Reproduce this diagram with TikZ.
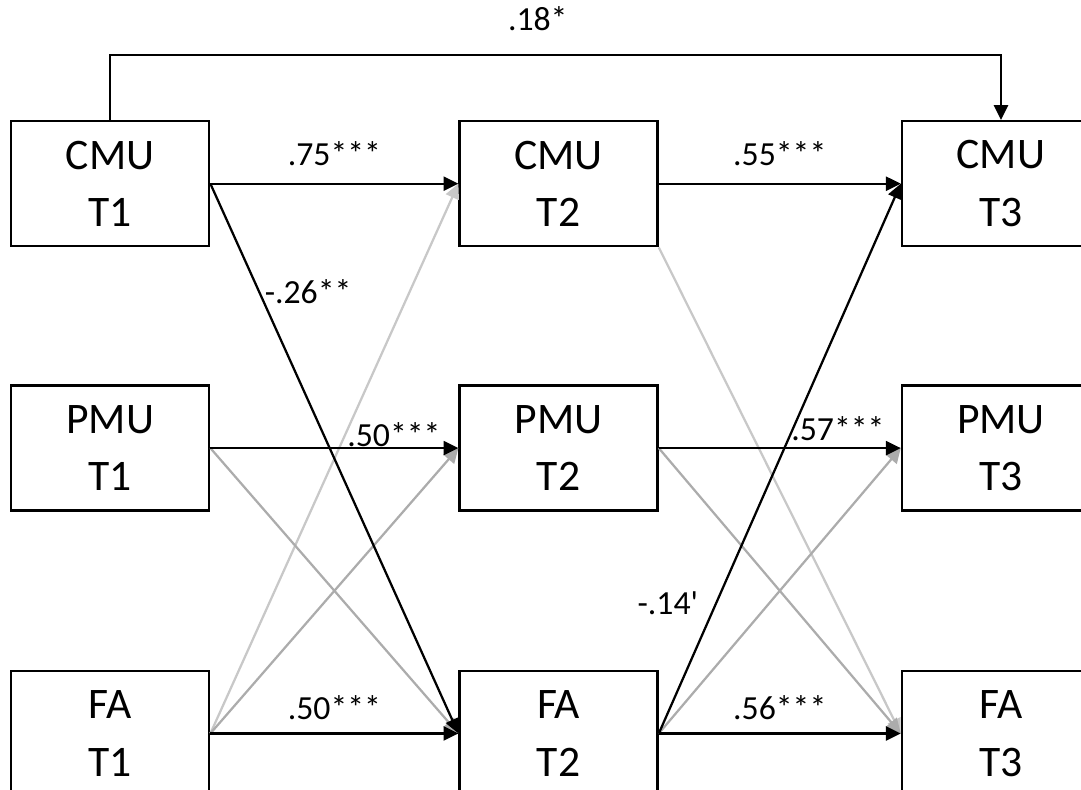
\documentclass[tikz,border=0pt]{standalone}
\usepackage{fontspec}
\setmainfont{Carlito}
\usetikzlibrary{positioning,arrows.meta}
\definecolor{nsgray}{RGB}{172,172,172}
\definecolor{nslight}{RGB}{200,200,200}

\begin{document}
\begin{tikzpicture}[
  >={Triangle[length=0.37cm,width=0.35cm]},
  var/.style={draw,line width=1.7pt,minimum width=4.95cm,minimum height=3.125cm,align=center,font=\fontsize{31}{41}\selectfont},
  coef/.style={font=\fontsize{24}{28}\selectfont},
  sig/.style={->,line width=1.6pt},
  ns/.style={->,line width=1.6pt,nsgray},
  nsl/.style={->,line width=1.6pt,nslight}
]
  \useasboundingbox (0,0) rectangle (27.025,-19.75);

  \node[var,anchor=north west] (cmu1) at (0.25,-3) {CMU\\T1};
  \node[var,right=6.2cm of cmu1] (cmu2) {CMU\\T2};
  \node[var,right=6.05cm of cmu2] (cmu3) {CMU\\T3};
  \node[var,below=3.425cm of cmu1] (pmu1) {PMU\\T1};
  \node[var,below=3.425cm of cmu2] (pmu2) {PMU\\T2};
  \node[var,below=3.425cm of cmu3] (pmu3) {PMU\\T3};
  \node[var,below=3.95cm of pmu1] (fa1) {FA\\T1};
  \node[var,below=3.95cm of pmu2] (fa2) {FA\\T2};
  \node[var,below=3.95cm of pmu3] (fa3) {FA\\T3};

  \draw[nsl] (fa1.east) -- (cmu2.west);
  \draw[ns] (fa1.east) -- (pmu2.west);
  \draw[ns] (pmu1.east) -- (fa2.west);
  \draw[nsl] (cmu2.south east) -- (fa3.west);
  \draw[ns] (pmu2.east) -- (fa3.west);
  \draw[ns] (fa2.east) -- (pmu3.west);

  \draw[sig] (cmu1.north) -- ++(0,1.625) -| node[coef,pos=0.24,above=0.45cm]{.18*} (cmu3.north);
  \draw[sig] (cmu1.east) -- node[coef,above=0.3cm]{.75***} (cmu2.west);
  \draw[sig] (cmu2.east) -- node[coef,above=0.3cm]{.55***} (cmu3.west);
  \draw[sig] (pmu1.east) -- node[coef,pos=0.74,above=-0.1cm]{.50***} (pmu2.west);
  \draw[sig] (pmu2.east) -- node[coef,pos=0.74,above=0.05cm]{.57***} (pmu3.west);
  \draw[sig] (fa1.east) -- node[coef,above=0.2cm]{.50***} (fa2.west);
  \draw[sig] (fa2.east) -- node[coef,above=0.2cm]{.56***} (fa3.west);
  \draw[sig] (cmu1.east) -- node[coef,pos=0.196,right]{-.26**} (fa2.west);
  \draw[sig] (fa2.east) -- node[coef,pos=0.236,left=0.3cm]{-.14\textquotesingle} (cmu3.west);
\end{tikzpicture}
\end{document}
